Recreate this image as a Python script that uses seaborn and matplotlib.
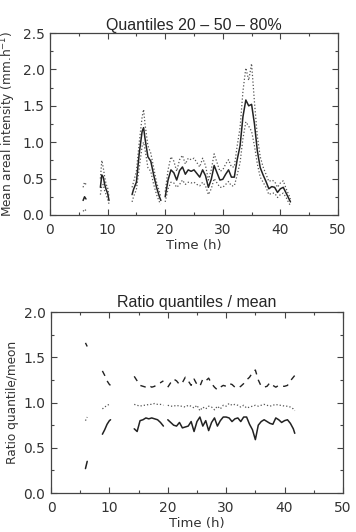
import matplotlib
matplotlib.use("Agg")
import matplotlib.pyplot as plt
from matplotlib.ticker import MultipleLocator
import pandas as pd
import seaborn as sns

sns.set_style("ticks")
plt.rcParams['font.family'] = ['DejaVu Sans']

# time of each continuous segment (h)
top_t = [
    [5.75, 6.0, 6.25],
    [8.75, 9.0, 9.25, 9.5, 9.75, 10.0, 10.25],
    [14.25, 14.5, 15.0, 15.5, 16.0, 16.25, 16.5, 17.0, 17.5, 18.0, 18.5, 19.0, 19.25],
    [20.0, 20.5, 21.0, 21.5, 22.0, 22.5, 23.0, 23.5, 24.0, 24.5, 25.0, 25.5, 26.0, 26.5, 27.0,
     27.5, 28.0, 28.5, 29.0, 29.5, 30.0, 30.5, 31.0, 31.5, 32.0, 32.5, 33.0, 33.5, 34.0, 34.5,
     35.0, 35.5, 36.0, 36.5, 37.0, 37.5, 38.0, 38.5, 39.0, 39.5, 40.0, 40.5, 41.0, 41.5, 41.75],
]
# mean areal intensity quantiles (mm/h)
top_q20 = [
    [0.05, 0.08, 0.06],
    [0.28, 0.40, 0.42, 0.33, 0.28, 0.22, 0.15],
    [0.18, 0.25, 0.35, 0.65, 0.95, 1.00, 0.90, 0.65, 0.60, 0.42, 0.28, 0.18, 0.15],
    [0.18, 0.36, 0.45, 0.44, 0.38, 0.42, 0.48, 0.42, 0.45, 0.44, 0.45, 0.42, 0.40, 0.45, 0.40,
     0.28, 0.36, 0.50, 0.44, 0.38, 0.38, 0.42, 0.46, 0.40, 0.40, 0.55, 0.72, 1.05, 1.28, 1.22,
     1.15, 0.95, 0.70, 0.52, 0.45, 0.38, 0.28, 0.30, 0.30, 0.24, 0.28, 0.30, 0.24, 0.16, 0.13],
]
top_q50 = [
    [0.20, 0.25, 0.22],
    [0.38, 0.55, 0.52, 0.42, 0.35, 0.30, 0.20],
    [0.28, 0.35, 0.45, 0.85, 1.15, 1.20, 1.05, 0.80, 0.74, 0.55, 0.38, 0.25, 0.20],
    [0.25, 0.48, 0.62, 0.58, 0.48, 0.61, 0.66, 0.56, 0.62, 0.60, 0.62, 0.57, 0.52, 0.62, 0.54,
     0.38, 0.49, 0.68, 0.58, 0.48, 0.49, 0.56, 0.62, 0.52, 0.52, 0.76, 0.95, 1.35, 1.58, 1.50,
     1.52, 1.25, 0.88, 0.65, 0.55, 0.46, 0.36, 0.39, 0.38, 0.31, 0.36, 0.38, 0.30, 0.22, 0.18],
]
top_q80 = [
    [0.38, 0.45, 0.42],
    [0.50, 0.75, 0.65, 0.52, 0.42, 0.38, 0.25],
    [0.38, 0.45, 0.60, 1.00, 1.35, 1.45, 1.25, 0.95, 0.85, 0.65, 0.45, 0.32, 0.25],
    [0.32, 0.62, 0.80, 0.74, 0.60, 0.76, 0.82, 0.70, 0.78, 0.76, 0.78, 0.72, 0.66, 0.78, 0.68,
     0.48, 0.62, 0.84, 0.72, 0.60, 0.62, 0.70, 0.76, 0.66, 0.66, 0.95, 1.20, 1.70, 2.02, 1.85,
     2.08, 1.55, 1.08, 0.80, 0.66, 0.56, 0.46, 0.48, 0.46, 0.38, 0.44, 0.47, 0.36, 0.27, 0.22],
]

bot_t = [
    [5.9, 6.2],
    [8.8, 9.2, 9.6, 10.0, 10.2],
    [14.25, 14.75, 15.25, 15.75, 16.25, 16.75, 17.25, 17.75, 18.25, 18.75, 19.25],
    top_t[3],
]
# ratio quantile / mean
bot_q20 = [
    [0.27, 0.35],
    [0.65, 0.70, 0.76, 0.80, 0.81],
    [0.71, 0.68, 0.80, 0.81, 0.83, 0.82, 0.83, 0.82, 0.81, 0.78, 0.74],
    [0.81, 0.78, 0.75, 0.74, 0.78, 0.72, 0.73, 0.74, 0.79, 0.68, 0.79, 0.84, 0.74, 0.80, 0.69,
     0.78, 0.83, 0.74, 0.80, 0.84, 0.84, 0.83, 0.79, 0.82, 0.83, 0.79, 0.84, 0.84, 0.76, 0.70,
     0.59, 0.75, 0.79, 0.81, 0.79, 0.77, 0.76, 0.83, 0.81, 0.78, 0.80, 0.81, 0.77, 0.71, 0.66],
]
bot_q50 = [
    [0.80, 0.84],
    [0.93, 0.95, 0.97, 0.98, 0.98],
    [0.98, 0.97, 0.96, 0.97, 0.97, 0.98, 0.98, 0.99, 0.98, 0.98, 0.97],
    [0.97, 0.96, 0.96, 0.97, 0.96, 0.96, 0.95, 0.97, 0.96, 0.94, 0.97, 0.91, 0.95, 0.93, 0.96,
     0.95, 0.92, 0.96, 0.93, 0.97, 0.96, 0.99, 0.97, 0.98, 0.97, 0.95, 0.97, 0.94, 0.95, 0.96,
     0.97, 0.96, 0.97, 0.98, 0.97, 0.96, 0.97, 0.98, 0.97, 0.97, 0.96, 0.96, 0.95, 0.93, 0.91],
]
bot_q80 = [
    [1.66, 1.62],
    [1.35, 1.30, 1.24, 1.20, 1.19],
    [1.29, 1.24, 1.19, 1.18, 1.17, 1.19, 1.17, 1.18, 1.21, 1.22, 1.24],
    [1.17, 1.22, 1.26, 1.24, 1.20, 1.22, 1.28, 1.24, 1.19, 1.26, 1.20, 1.18, 1.26, 1.24, 1.27,
     1.21, 1.17, 1.14, 1.17, 1.19, 1.18, 1.21, 1.20, 1.17, 1.16, 1.18, 1.21, 1.25, 1.28, 1.33,
     1.36, 1.25, 1.18, 1.17, 1.18, 1.22, 1.19, 1.17, 1.19, 1.18, 1.18, 1.19, 1.24, 1.28, 1.30],
]


def to_frame(times, values):
    rows = []
    for seg, (ts, vs) in enumerate(zip(times, values)):
        for t, v in zip(ts, vs):
            rows.append({'t': t, 'v': v, 'seg': seg})
    return pd.DataFrame(rows)


def style_axis(ax, ymax, ylabel):
    ax.set_xlim(0, 50)
    ax.set_ylim(0, ymax)
    ax.xaxis.set_major_locator(MultipleLocator(10))
    ax.xaxis.set_minor_locator(MultipleLocator(5))
    ax.yaxis.set_major_locator(MultipleLocator(0.5))
    ax.yaxis.set_minor_locator(MultipleLocator(0.25))
    ax.yaxis.set_major_formatter(plt.FormatStrFormatter('%.1f'))
    ax.tick_params(which='both', direction='in', top=True, right=True,
                   colors='#444444', labelcolor='#333333', labelsize=10, width=0.8)
    ax.tick_params(which='major', length=4.5, pad=6)
    ax.tick_params(which='minor', length=2.5)
    ax.tick_params(axis='y', pad=4)
    for s in ax.spines.values():
        s.set_color('#444444')
        s.set_linewidth(0.9)
    ax.set_xlabel('Time (h)', fontsize=9.5, color='#333333', labelpad=1)
    ax.set_ylabel(ylabel, fontsize=8.7, color='#333333', labelpad=3)


fig = plt.figure(figsize=(3.56, 5.32), dpi=100)
ax1 = fig.add_axes([0.1404, 0.5959, 0.809, 0.342])
ax2 = fig.add_axes([0.1433, 0.0733, 0.820, 0.340])

# top panel: quantiles 20/50/80
for vals, ls, lw, col in [(top_q20, ':', 0.9, '#555555'),
                          (top_q80, ':', 0.9, '#555555'),
                          (top_q50, '-', 1.1, '#222222')]:
    sns.lineplot(data=to_frame(top_t, vals), x='t', y='v', units='seg',
                 estimator=None, ax=ax1, color=col, ls=ls, lw=lw)
style_axis(ax1, 2.5, 'Mean areal intensity (mm.h$^{-1}$)')
ax1.set_title('Quantiles 20 – 50 – 80%', family='Liberation Sans',
              fontsize=11.5, pad=2)

# bottom panel: ratios
for vals, ls, lw, col in [(bot_q80, (0, (4, 4)), 1.0, '#222222'),
                          (bot_q50, ':', 0.9, '#555555'),
                          (bot_q20, '-', 1.1, '#222222')]:
    sns.lineplot(data=to_frame(bot_t, vals), x='t', y='v', units='seg',
                 estimator=None, ax=ax2, color=col, ls=ls, lw=lw)
style_axis(ax2, 2.0, 'Ratio quantile/meon')
ax2.set_title('Ratio quantiles / mean', family='Liberation Sans',
              fontsize=11.5, pad=4)

fig.savefig('out.png', dpi=100)
